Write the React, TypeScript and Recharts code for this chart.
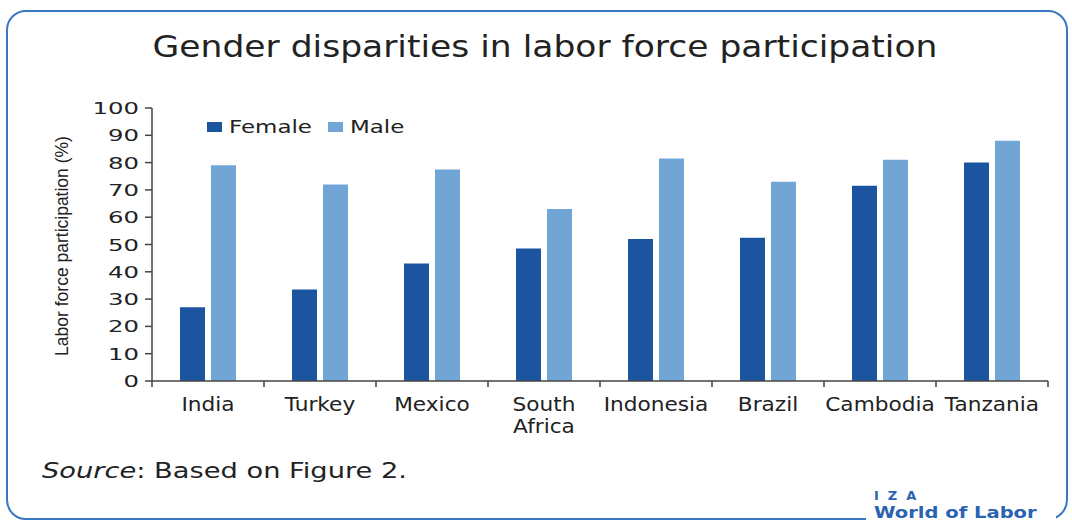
import React from 'react'
import { BarChart, Bar, XAxis, YAxis, Legend } from 'recharts'

const categories = ['India', 'Turkey', 'Mexico', 'South Africa', 'Indonesia', 'Brazil', 'Cambodia', 'Tanzania']
const female = [27, 33.5, 43, 48.5, 52, 52.5, 71.5, 80]
const male = [79, 72, 77.5, 63, 81.5, 73, 81, 88]
const yTicks = [0, 10, 20, 30, 40, 50, 60, 70, 80, 90, 100]

const seriesNames = ['Female', 'Male']
const COLORS = ['#1b55a0', '#70a5d6']
const BLUE = '#3b78c0'

const W = 1072
const H = 521
const PLOT_LEFT = 152
const PLOT_RIGHT = 1048
const STEP = (PLOT_RIGHT - PLOT_LEFT) / categories.length

const data = categories.map((c, i) => ({ country: c, female: female[i], male: male[i] }))

function YTick(props: any) {
  const { x, y, payload } = props
  const s = String(payload.value)
  return (
    <text x={x - 4} y={y + 6} textAnchor="end" fontFamily="DejaVu Sans" fontSize={15} fill="#222"
      textLength={s.length * 15.5} lengthAdjust="spacingAndGlyphs">
      {s}
    </text>
  )
}

function XTick(props: any) {
  const { x, y, payload, index } = props
  const lines = String(payload.value).split(' ')
  const left = x - STEP / 2
  return (
    <g>
      <line x1={left} x2={left} y1={y - 8} y2={y - 2} stroke="#444" strokeWidth={1.5} />
      {index === categories.length - 1 && (
        <line x1={x + STEP / 2} x2={x + STEP / 2} y1={y - 8} y2={y - 2} stroke="#444" strokeWidth={1.5} />
      )}
      <g transform={`translate(${x},0) scale(1.14,1) translate(${-x},0)`}>
        <text x={x} y={y + 22} textAnchor="middle" fontFamily="DejaVu Sans" fontSize={19} fill="#222">
          {lines.map((l, i) => (
            <tspan key={i} x={x} dy={i === 0 ? 0 : 22}>{l}</tspan>
          ))}
        </text>
      </g>
    </g>
  )
}

function LegendContent() {
  return (
    <div style={{ display: 'flex', alignItems: 'center', fontFamily: 'DejaVu Sans', fontSize: 17, color: '#222' }}>
      {seriesNames.map((n, i) => (
        <div key={n} style={{ display: 'flex', alignItems: 'center', width: i === 0 ? 121 : 90 }}>
          <span style={{ width: 15, height: 10, background: COLORS[i], display: 'inline-block', marginRight: 7 }} />
          <span style={{ display: 'inline-block', transform: 'scaleX(1.35)', transformOrigin: 'left' }}>{n}</span>
        </div>
      ))}
    </div>
  )
}

export default function App() {
  return (
    <div style={{ position: 'absolute', left: 0, top: 0, width: W, height: H, background: '#fff', overflow: 'hidden' }}>
      <div style={{
        position: 'absolute', left: 6, top: 10, width: 1058, height: 506,
        border: `2px solid ${BLUE}`, borderRadius: 20,
      }} />
      <div style={{
        position: 'absolute', left: 545, top: 29, transform: 'translateX(-50%) scaleX(1.15)', whiteSpace: 'nowrap',
        fontFamily: 'DejaVu Sans', fontSize: 30, color: '#222',
      }}>
        Gender disparities in labor force participation
      </div>
      <div style={{
        position: 'absolute', left: 62, top: 246, transform: 'translate(-50%, -50%) rotate(-90deg)',
        whiteSpace: 'nowrap', fontFamily: 'Liberation Sans', fontSize: 17.5, color: '#222',
      }}>
        Labor force participation (%)
      </div>
      <BarChart
        width={W}
        height={H}
        data={data}
        margin={{ top: 108, right: W - PLOT_RIGHT, left: PLOT_LEFT - 60, bottom: 110 }}
        barCategoryGap="25%"
        barGap={6}
        style={{ position: 'absolute', left: 0, top: 0 }}
      >
        <XAxis dataKey="country" height={30} tick={<XTick />} tickLine={false} interval={0}
          axisLine={{ stroke: '#444', strokeWidth: 1.5 }} />
        <YAxis width={60} domain={[0, 100]} ticks={yTicks} tick={<YTick />} interval={0}
          tickLine={{ stroke: '#444', strokeWidth: 1.5 }} tickSize={7}
          axisLine={{ stroke: '#444', strokeWidth: 1.5 }} />
        <Legend layout="horizontal" verticalAlign="middle" align="center" content={<LegendContent />}
          wrapperStyle={{ position: 'absolute', left: 207, top: 117, width: 300 }} />
        <Bar dataKey="female" name="Female" fill={COLORS[0]} isAnimationActive={false} />
        <Bar dataKey="male" name="Male" fill={COLORS[1]} isAnimationActive={false} />
      </BarChart>
      <div style={{
        position: 'absolute', left: 42, top: 459, fontFamily: 'DejaVu Sans', fontSize: 20.5, color: '#222',
        transform: 'scaleX(1.33)', transformOrigin: 'left', whiteSpace: 'nowrap',
      }}>
        <i>Source</i>: Based on Figure 2.
      </div>
      <div style={{
        position: 'absolute', left: 866, top: 489, width: 182, height: 32, background: '#fff',
        fontFamily: 'DejaVu Sans', fontWeight: 'bold', color: '#2a63b0', paddingLeft: 8,
      }}>
        <div style={{ fontSize: 13, letterSpacing: 9, lineHeight: '14px' }}>IZA</div>
        <div style={{
          fontSize: 16, lineHeight: '17px', whiteSpace: 'nowrap',
          display: 'inline-block', transform: 'scaleX(1.22)', transformOrigin: 'left',
        }}>World of Labor</div>
      </div>
    </div>
  )
}
